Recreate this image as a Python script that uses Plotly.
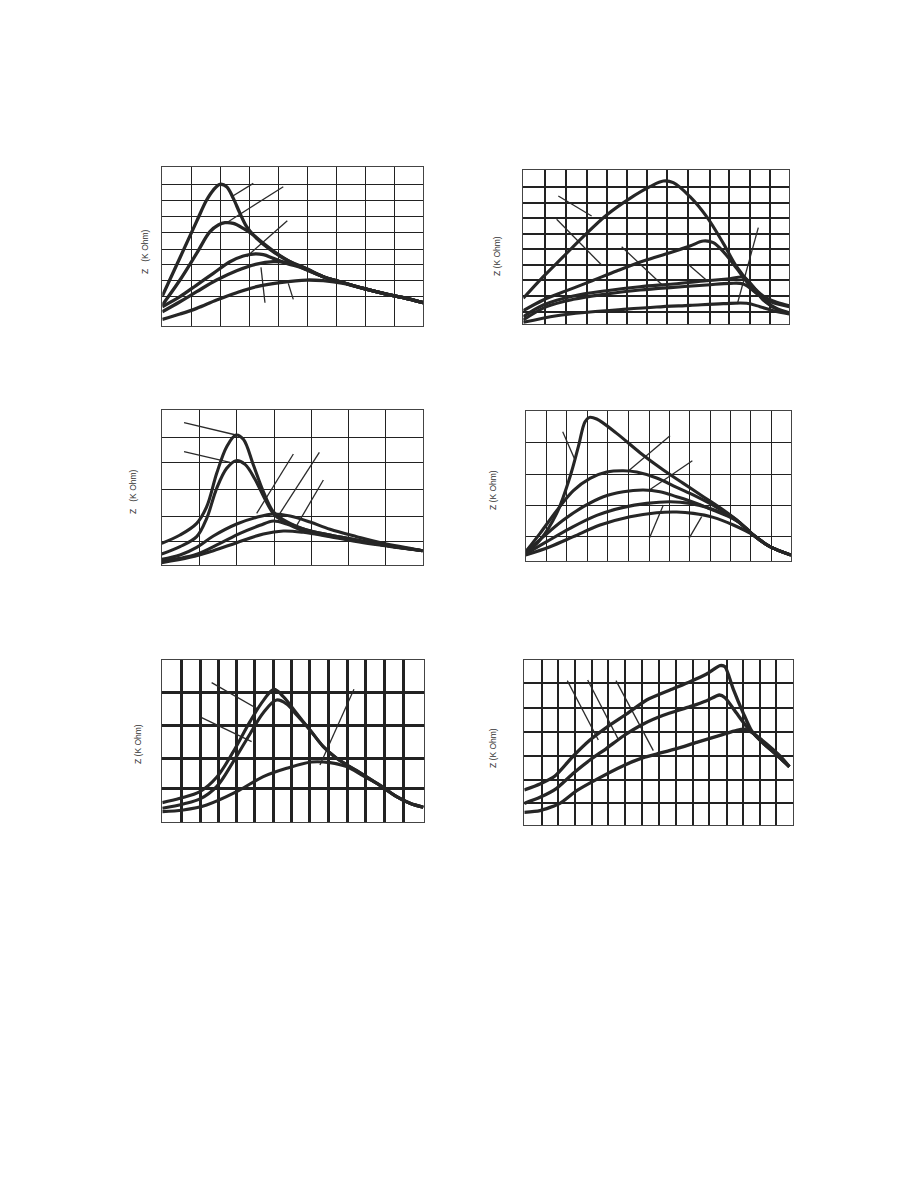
import plotly.graph_objects as go

W, H = 918, 1188
OFF = 8  # page body margin in the browser

# ---------------- Panel 1 ----------------
P1_A_X = [0, 53, 103, 133, 153, 173, 193, 213, 233, 253, 283, 323, 373, 423, 483, 543, 603, 663, 723, 783]
P1_A_Y = [89, 204, 313, 377, 407, 424, 417, 382, 337, 297, 262, 229, 197, 175, 147, 129, 112, 97, 84, 69]
P1_B_X = [0, 53, 103, 143, 168, 188, 213, 243, 273, 303, 343, 383, 423, 483, 543, 603, 663, 723, 783]
P1_B_Y = [62, 137, 217, 282, 302, 309, 307, 292, 272, 247, 217, 192, 172, 147, 129, 112, 97, 84, 69]
P1_C_X = [0, 53, 103, 153, 203, 243, 273, 303, 333, 373, 423, 483, 543, 603, 663, 723, 783]
P1_C_Y = [57, 87, 122, 157, 192, 209, 215, 213, 202, 187, 172, 147, 129, 112, 97, 84, 69]
P1_D_X = [0, 53, 103, 163, 223, 283, 333, 373, 423, 483, 543, 603, 663, 723, 783]
P1_D_Y = [42, 72, 102, 137, 165, 185, 192, 189, 175, 147, 129, 112, 97, 84, 69]
P1_E_X = [0, 53, 103, 163, 223, 283, 353, 433, 483, 543, 603, 663, 723, 783]
P1_E_Y = [19, 35, 52, 77, 99, 117, 129, 137, 135, 127, 112, 97, 84, 69]
P1_LEAD_X = [[208, 273], [193, 363], [253, 375], [296, 308], [378, 393]]
P1_LEAD_Y = [[387, 427], [309, 417], [207, 315], [175, 69], [127, 79]]
P1_GRID_X = [0, 88, 175, 263, 350, 436, 523, 611, 696, 783]
P1_GRID_Y = [0, 89, 137, 184, 230, 279, 327, 375, 424, 477]

# ---------------- Panel 2 ----------------
P2_A_X = [0, 60, 120, 180, 250, 320, 380, 420, 450, 500, 550, 600, 640, 680, 720, 760, 798]
P2_A_Y = [77, 142, 202, 262, 327, 377, 412, 429, 424, 382, 322, 242, 172, 122, 84, 65, 55]
P2_B_X = [0, 60, 130, 200, 280, 360, 440, 500, 540, 570, 600, 640, 670, 700, 740, 798]
P2_B_Y = [40, 72, 100, 127, 159, 189, 214, 234, 249, 244, 217, 167, 127, 92, 67, 52]
P2_C_X = [0, 60, 150, 250, 350, 450, 550, 620, 660, 690, 720, 760, 798]
P2_C_Y = [22, 57, 84, 100, 112, 120, 130, 136, 140, 112, 72, 47, 34]
P2_D_X = [0, 70, 150, 250, 350, 450, 550, 620, 660, 700, 750, 798]
P2_D_Y = [12, 52, 74, 90, 102, 110, 117, 122, 120, 92, 50, 32]
P2_E_X = [0, 100, 200, 300, 400, 500, 600, 670, 710, 750, 798]
P2_E_Y = [5, 25, 36, 44, 51, 56, 61, 62, 52, 40, 30]
P2_LEAD_X = [[105, 205], [100, 235], [295, 420], [497, 555], [705, 642]]
P2_LEAD_Y = [[384, 324], [314, 177], [232, 114], [177, 127], [289, 60]]
P2_GRID_X = [0, 65, 128, 190, 250, 310, 370, 432, 495, 560, 618, 680, 740, 798]
P2_GRID_Y = [0, 37, 85, 132, 177, 224, 270, 317, 364, 412, 462]

# ---------------- Panel 3 ----------------
P3_A_X = [0, 55, 105, 135, 165, 195, 223, 245, 275, 305, 335, 375, 435, 505, 585, 665, 783]
P3_A_Y = [65, 90, 125, 175, 275, 355, 390, 377, 300, 220, 160, 130, 105, 90, 75, 60, 43]
P3_B_X = [0, 55, 105, 135, 165, 195, 223, 250, 280, 310, 337, 375, 435, 505, 585, 665, 783]
P3_B_Y = [33, 55, 85, 140, 230, 290, 313, 302, 257, 197, 152, 127, 105, 90, 75, 60, 43]
P3_C_X = [0, 55, 105, 155, 225, 285, 335, 385, 445, 505, 585, 665, 783]
P3_C_Y = [17, 30, 53, 87, 123, 143, 153, 147, 129, 107, 85, 65, 43]
P3_D_X = [0, 55, 105, 175, 235, 295, 335, 375, 425, 505, 585, 665, 783]
P3_D_Y = [13, 20, 32, 65, 95, 119, 132, 123, 103, 87, 73, 60, 43]
P3_E_X = [0, 85, 155, 225, 305, 365, 425, 505, 605, 783]
P3_E_Y = [7, 23, 43, 67, 93, 102, 98, 85, 67, 43]
P3_LEAD_X = [[67, 223], [67, 205], [395, 285], [473, 345], [485, 400]]
P3_LEAD_Y = [[427, 390], [340, 308], [333, 155], [338, 140], [255, 110]]
P3_GRID_X = [0, 112, 225, 337, 448, 560, 671, 783]
P3_GRID_Y = [0, 70, 145, 227, 307, 383, 465]

# ---------------- Panel 4 ----------------
P4_A_X = [0, 43, 93, 133, 158, 178, 191, 213, 273, 343, 413, 473, 533, 593, 633, 683, 733, 796]
P4_A_Y = [22, 62, 142, 252, 342, 417, 430, 425, 382, 324, 272, 232, 192, 152, 122, 77, 42, 17]
P4_B_X = [0, 43, 93, 143, 193, 243, 293, 333, 393, 453, 513, 573, 633, 683, 733, 796]
P4_B_Y = [27, 82, 150, 210, 247, 266, 270, 266, 248, 220, 192, 160, 122, 77, 42, 17]
P4_C_X = [0, 53, 113, 173, 233, 293, 353, 403, 453, 513, 573, 633, 683, 733, 796]
P4_C_Y = [24, 72, 122, 162, 192, 207, 212, 207, 192, 172, 147, 120, 77, 42, 17]
P4_D_X = [0, 63, 133, 213, 293, 363, 433, 493, 553, 613, 663, 683, 733, 796]
P4_D_Y = [20, 57, 97, 136, 160, 172, 177, 172, 157, 132, 97, 77, 42, 17]
P4_E_X = [0, 73, 143, 223, 313, 393, 453, 503, 563, 623, 683, 733, 796]
P4_E_Y = [17, 42, 72, 107, 132, 144, 146, 142, 130, 107, 77, 42, 17]
P4_LEAD_X = [[111, 148], [433, 308], [500, 371], [413, 371], [528, 490]]
P4_LEAD_Y = [[387, 302], [375, 269], [300, 212], [167, 67], [132, 67]]
P4_GRID_X = [0, 61, 123, 185, 246, 308, 370, 430, 491, 553, 613, 673, 736, 796]
P4_GRID_Y = [0, 72, 167, 260, 355, 450]

# ---------------- Panel 5 ----------------
P5_A_X = [0, 53, 113, 163, 213, 263, 303, 335, 363, 403, 443, 483, 523, 583, 643, 703, 743, 783]
P5_A_Y = [59, 72, 92, 135, 212, 302, 365, 399, 377, 327, 277, 227, 192, 155, 117, 77, 57, 45]
P5_B_X = [0, 63, 113, 163, 213, 263, 303, 343, 373, 403, 443, 483, 523, 583, 643, 703, 743, 783]
P5_B_Y = [42, 55, 70, 107, 182, 265, 329, 367, 355, 322, 277, 227, 192, 155, 117, 77, 57, 45]
P5_C_X = [0, 63, 133, 223, 303, 373, 448, 503, 553, 603, 653, 703, 743, 783]
P5_C_Y = [32, 37, 52, 92, 137, 162, 181, 179, 167, 139, 112, 77, 57, 45]
P5_LEAD_X = [[148, 288], [118, 268], [575, 473]]
P5_LEAD_Y = [[419, 339], [314, 242], [399, 172]]
P5_GRID_X = [0, 58, 115, 168, 223, 278, 333, 388, 443, 500, 555, 611, 668, 725, 786]
P5_GRID_Y = [0, 102, 190, 289, 389, 487]

# ---------------- Panel 6 ----------------
P6_A_X = [0, 47, 92, 147, 197, 247, 307, 367, 437, 497, 547, 587, 602, 627, 657, 682, 717, 757, 795]
P6_A_Y = [105, 123, 147, 207, 255, 293, 333, 375, 405, 430, 453, 478, 475, 407, 335, 282, 245, 210, 175]
P6_B_X = [0, 47, 97, 147, 197, 247, 297, 357, 417, 497, 547, 585, 602, 637, 667, 687, 717, 757, 795]
P6_B_Y = [65, 83, 110, 155, 195, 230, 267, 303, 329, 355, 373, 390, 382, 335, 295, 275, 245, 210, 175]
P6_C_X = [0, 47, 107, 157, 217, 297, 357, 397, 457, 517, 587, 637, 662, 687, 727, 767, 795]
P6_C_Y = [38, 43, 65, 103, 137, 178, 202, 213, 229, 248, 269, 284, 287, 275, 243, 207, 175]
P6_LEAD_X = [[129, 222], [190, 282], [275, 387]]
P6_LEAD_Y = [[433, 255], [435, 257], [433, 223]]
P6_GRID_X = [0, 52, 102, 152, 202, 252, 302, 352, 404, 454, 505, 555, 607, 657, 707, 755, 805]
P6_GRID_Y = [0, 65, 135, 208, 280, 352, 425, 495]

Y_TITLE_GAP = "Z   (K Ohm)"
Y_TITLE = "Z (K Ohm)"

panels = [
    dict(box=(162.3, 423.3, 166.7, 325.7), curves=[(P1_A_X, P1_A_Y), (P1_B_X, P1_B_Y), (P1_C_X, P1_C_Y), (P1_D_X, P1_D_Y), (P1_E_X, P1_E_Y)],
         leads=(P1_LEAD_X, P1_LEAD_Y), gx=P1_GRID_X, gy=P1_GRID_Y, gw=1, cw=3.3, title=Y_TITLE_GAP, tpos=(145, 252), smooth=1.0),
    dict(box=(523.3, 789.3, 170, 324), curves=[(P2_A_X, P2_A_Y), (P2_B_X, P2_B_Y), (P2_C_X, P2_C_Y), (P2_D_X, P2_D_Y), (P2_E_X, P2_E_Y)],
         leads=(P2_LEAD_X, P2_LEAD_Y), gx=P2_GRID_X, gy=P2_GRID_Y, gw=1.8, cw=3.1, title=Y_TITLE, tpos=(497, 256), smooth=1.0),
    dict(box=(161.7, 422.7, 410, 565), curves=[(P3_A_X, P3_A_Y), (P3_B_X, P3_B_Y), (P3_C_X, P3_C_Y), (P3_D_X, P3_D_Y), (P3_E_X, P3_E_Y)],
         leads=(P3_LEAD_X, P3_LEAD_Y), gx=P3_GRID_X, gy=P3_GRID_Y, gw=1, cw=3.1, title=Y_TITLE_GAP, tpos=(133, 492), smooth=1.0),
    dict(box=(525.7, 791, 410.7, 560.7), curves=[(P4_A_X, P4_A_Y), (P4_B_X, P4_B_Y), (P4_C_X, P4_C_Y), (P4_D_X, P4_D_Y), (P4_E_X, P4_E_Y)],
         leads=(P4_LEAD_X, P4_LEAD_Y), gx=P4_GRID_X, gy=P4_GRID_Y, gw=1, cw=3.1, title=Y_TITLE, tpos=(493, 490), smooth=1.0),
    dict(box=(162.3, 424.3, 660, 822.3), curves=[(P5_A_X, P5_A_Y), (P5_B_X, P5_B_Y), (P5_C_X, P5_C_Y)],
         leads=(P5_LEAD_X, P5_LEAD_Y), gx=P5_GRID_X, gy=P5_GRID_Y, gw=2.8, cw=3.1, title=Y_TITLE, tpos=(138, 744), smooth=1.0),
    dict(box=(524.3, 792.7, 660, 825), curves=[(P6_A_X, P6_A_Y), (P6_B_X, P6_B_Y), (P6_C_X, P6_C_Y)],
         leads=(P6_LEAD_X, P6_LEAD_Y), gx=P6_GRID_X, gy=P6_GRID_Y, gw=1.8, cw=3.3, title=Y_TITLE, tpos=(493, 748), smooth=0.6),
]

fig = go.Figure()
layout = dict(
    width=W, height=H, margin=dict(l=0, r=0, t=0, b=0),
    paper_bgcolor="white", plot_bgcolor="white", showlegend=False,
    annotations=[],
)
CURVE_COLOR = "#262626"
for i, p in enumerate(panels, start=1):
    L, R, T, B = [v - OFF for v in p["box"]]
    xa = "x" if i == 1 else f"x{i}"
    ya = "y" if i == 1 else f"y{i}"
    xk = "xaxis" if i == 1 else f"xaxis{i}"
    yk = "yaxis" if i == 1 else f"yaxis{i}"
    layout[xk] = dict(
        domain=[L / W, R / W], range=[p["gx"][0], p["gx"][-1]], anchor=ya,
        tickmode="array", tickvals=p["gx"], showticklabels=False, ticks="",
        showgrid=True, gridcolor="#222", gridwidth=p["gw"], zeroline=False,
        showline=True, mirror=True, linecolor="#444", linewidth=1.2, fixedrange=True,
    )
    layout[yk] = dict(
        domain=[1 - B / H, 1 - T / H], range=[p["gy"][0], p["gy"][-1]], anchor=xa,
        tickmode="array", tickvals=p["gy"], showticklabels=False, ticks="",
        showgrid=True, gridcolor="#222", gridwidth=p["gw"], zeroline=False,
        showline=True, mirror=True, linecolor="#444", linewidth=1.2, fixedrange=True,
    )
    lx, ly = p["leads"]
    for sx, sy in zip(lx, ly):
        fig.add_trace(go.Scatter(x=sx, y=sy, mode="lines", xaxis=xa, yaxis=ya,
                                 line=dict(color="#2a2a2a", width=1.3), hoverinfo="skip", cliponaxis=False))
    for cx, cy in p["curves"]:
        fig.add_trace(go.Scatter(x=cx, y=cy, mode="lines", xaxis=xa, yaxis=ya,
                                 line=dict(color=CURVE_COLOR, width=p["cw"], shape="spline", smoothing=p["smooth"]),
                                 hoverinfo="skip"))
    tx, ty = p["tpos"]
    layout["annotations"].append(dict(
        x=(tx - OFF) / W, y=1 - (ty - OFF) / H, xref="paper", yref="paper", text=p["title"],
        showarrow=False, textangle=-90, xanchor="center", yanchor="middle",
        font=dict(family="Liberation Sans, Arial, sans-serif", size=8.5, color="#333"),
    ))

fig.update_layout(**layout)
fig.write_html("out.html")
